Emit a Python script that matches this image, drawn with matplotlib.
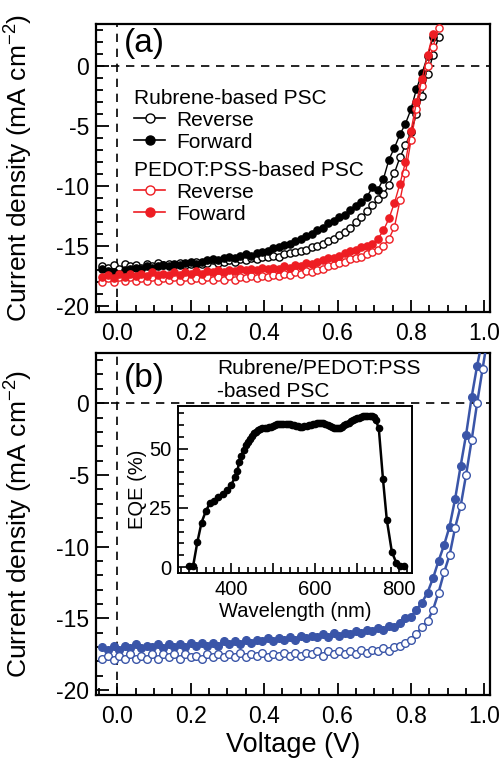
import numpy as np
import matplotlib
matplotlib.use("Agg")
import matplotlib.pyplot as plt
from matplotlib.ticker import MultipleLocator, FuncFormatter
from matplotlib.lines import Line2D

plt.rcParams['font.family'] = ['Liberation Sans', 'DejaVu Sans']
plt.rcParams['axes.unicode_minus'] = False
plt.rcParams['mathtext.fontset'] = 'custom'
plt.rcParams['mathtext.rm'] = 'Liberation Sans'
plt.rcParams['mathtext.default'] = 'regular'

# ---------------- data ----------------
# voltage sweep grids (V)
V_a = np.round(np.arange(-0.04, 0.8751, 0.015), 3)   # 62 points
V_b = np.round(np.arange(-0.04, 1.0101, 0.015), 3)   # 71 points

rub_rev = [-16.7, -16.8, -16.6, -16.9, -16.5, -16.7, -16.6, -16.8, -16.5, -16.7,
           -16.4, -16.6, -16.5, -16.6, -16.4, -16.6, -16.5, -16.3, -16.5, -16.4,
           -16.2, -16.4, -16.3, -16.2, -16.3, -16.1, -16.2, -16.0, -16.1, -15.9,
           -15.9, -15.8, -15.9, -15.7, -15.6, -15.5, -15.4, -15.3, -15.1, -15.0,
           -14.8, -14.6, -14.4, -14.1, -13.8, -13.5, -13.0, -12.6, -12.1, -11.6,
           -11.1, -10.7, -9.9, -8.9, -7.6, -6.6, -5.5, -4.0, -2.5, -0.7,
           0.9, 2.4]
rub_fwd = [-16.9, -17.1, -17.2, -17.3, -17.0, -16.9, -16.8, -16.9, -16.7, -16.8,
           -16.7, -16.6, -16.7, -16.5, -16.6, -16.4, -16.3, -16.5, -16.3, -16.2,
           -16.1, -16.2, -16.0, -15.9, -16.0, -15.8, -15.7, -15.8, -15.6, -15.5,
           -15.4, -15.2, -15.1, -14.9, -14.8, -14.6, -14.4, -14.2, -14.0, -13.7,
           -13.5, -13.1, -12.9, -12.6, -12.4, -12.0, -11.7, -11.3, -10.9, -10.1,
           -10.3, -9.4, -7.8, -6.8, -5.7, -4.8, -3.6, -1.9, -0.6, 0.8,
           2.4]
ped_rev = [-18.0, -17.7, -18.0, -17.6, -17.9, -17.6, -17.9, -17.7, -17.9, -17.6,
           -17.9, -17.7, -17.8, -17.6, -17.9, -17.6, -17.8, -17.7, -17.8, -17.6,
           -17.8, -17.6, -17.8, -17.5, -17.8, -17.6, -17.7, -17.5, -17.7, -17.5,
           -17.6, -17.4, -17.5, -17.3, -17.4, -17.2, -17.3, -17.1, -17.2, -17.0,
           -16.9, -16.7, -16.6, -16.4, -16.3, -16.1, -16.0, -15.9, -15.7, -15.5,
           -15.3, -15.0, -14.4, -13.4, -11.2, -8.9, -6.2, -3.6, -1.7, 0.0,
           1.6, 3.2]
ped_fwd = [-17.6, -17.4, -17.7, -17.3, -17.6, -17.3, -17.5, -17.3, -17.5, -17.2,
           -17.4, -17.3, -17.4, -17.2, -17.4, -17.2, -17.3, -17.1, -17.3, -17.1,
           -17.2, -17.0, -17.2, -17.0, -17.1, -16.9, -17.0, -16.9, -17.0, -16.8,
           -16.9, -16.8, -16.9, -16.7, -16.8, -16.6, -16.7, -16.4, -16.5, -16.3,
           -16.2, -16.0, -16.0, -15.8, -15.6, -15.4, -15.3, -15.1, -15.0, -14.8,
           -14.4, -13.7, -12.7, -11.4, -9.8, -8.0, -5.4, -3.0, -1.1, 0.9,
           2.7]

blue_fill = [-17.0, -17.2, -16.9, -17.2, -16.9, -17.1, -16.8, -17.1, -16.9, -17.0,
             -16.8, -17.1, -16.8, -17.0, -16.8, -17.0, -16.7, -16.9, -16.7, -16.9,
             -16.7, -16.9, -16.6, -16.8, -16.6, -16.8, -16.5, -16.7, -16.5, -16.6,
             -16.4, -16.6, -16.4, -16.5, -16.3, -16.5, -16.2, -16.4, -16.2, -16.3,
             -16.1, -16.3, -16.0, -16.2, -16.0, -16.1, -15.9, -16.0, -15.8, -15.9,
             -15.7, -15.8, -15.5, -15.6, -15.3, -15.0, -14.9, -14.4, -13.9, -13.2,
             -12.2, -11.0, -9.9, -8.6, -6.7, -4.4, -2.2, 0.4, 2.6, 4.5]
blue_open = [-17.8, -17.6, -17.9, -17.6, -17.8, -17.5, -17.8, -17.6, -17.8, -17.5,
             -17.8, -17.5, -17.7, -17.5, -17.8, -17.5, -17.7, -17.6, -17.8, -17.5,
             -17.7, -17.5, -17.7, -17.5, -17.7, -17.4, -17.7, -17.5, -17.6, -17.4,
             -17.7, -17.5, -17.6, -17.4, -17.6, -17.4, -17.6, -17.4, -17.5, -17.3,
             -17.6, -17.3, -17.5, -17.3, -17.5, -17.3, -17.5, -17.2, -17.4, -17.2,
             -17.3, -17.1, -17.3, -17.0, -16.9, -16.7, -16.5, -16.1, -15.6, -15.2,
             -14.4, -13.2, -11.8, -10.6, -8.7, -7.2, -5.0, -2.6, 0.0, 2.4,
             4.8]

eqe_wl = [300, 310, 320, 330, 340, 350, 360, 370, 380, 390, 400, 410, 415, 420, 425,
          430, 435, 440, 445, 450, 455, 460, 465, 470, 475, 480, 485, 490, 495, 500,
          505, 510, 515, 520, 525, 530, 535, 540, 545, 550, 555, 560, 565, 570, 575,
          580, 585, 590, 595, 600, 605, 610, 615, 620, 625, 630, 635, 640, 645, 650,
          655, 660, 665, 670, 675, 680, 685, 690, 695, 700, 705, 710, 715, 720, 725,
          730, 735, 740, 745, 752, 762, 771, 783, 794, 802, 812]
eqe_val = [0.3, 0.5, 10.5, 18.8, 23.5, 27.0, 28.0, 29.5, 30.8, 32.5, 34.5, 38.0, 40.5, 44.5, 47.0,
           49.5, 51.5, 53.0, 54.2, 55.3, 56.5, 57.2, 57.8, 58.2, 58.5, 58.6, 58.8, 59.0, 59.2, 59.6,
           60.0, 60.3, 60.5, 60.6, 60.5, 60.4, 60.3, 60.2, 60.0, 59.9, 59.7, 59.5, 59.3, 59.3, 59.4,
           59.6, 59.9, 60.1, 60.3, 60.5, 60.7, 60.9, 61.0, 60.8, 60.4, 60.0, 59.5, 59.0, 58.7, 58.6,
           58.7, 58.9, 59.3, 59.8, 60.4, 61.0, 61.5, 62.0, 62.4, 62.8, 63.1, 63.4, 63.6, 63.8, 63.9,
           63.9, 63.8, 63.2, 62.0, 58.5, 37.0, 20.0, 6.5, 1.6, 0.5, 0.3]

x_ticks = [0.0, 0.2, 0.4, 0.6, 0.8, 1.0]
y_ticks = [0, -5, -10, -15, -20]

RED = '#EE1D23'
BLUE = '#3A55A8'

# ---------------- figure ----------------
fig = plt.figure(figsize=(5.02, 7.63), dpi=100)
axa = fig.add_axes([0.191, 0.591, 0.785, 0.3775])
axb = fig.add_axes([0.191, 0.089, 0.785, 0.4484])


def style_main(ax, ylim):
    ax.set_xlim(-0.058, 1.015)
    ax.set_ylim(*ylim)
    ax.set_xticks(x_ticks)
    ax.set_yticks(y_ticks)
    ax.xaxis.set_minor_locator(MultipleLocator(0.05))
    ax.yaxis.set_minor_locator(MultipleLocator(1))
    ax.xaxis.set_major_formatter(FuncFormatter(lambda v, p: f"{v:.1f}"))
    ax.tick_params(which='both', direction='in', top=False, right=False, width=1.3)
    ax.tick_params(which='major', length=9, labelsize=16.5)
    ax.tick_params(axis='x', which='major', pad=7)
    ax.tick_params(axis='y', which='major', pad=5)
    ax.tick_params(which='minor', length=5)
    for s in ax.spines.values():
        s.set_linewidth(1.6)
    ax.axhline(0, color='black', ls=(0, (5, 4)), lw=1.2, zorder=1)
    ax.axvline(0, color='black', ls=(0, (5, 4)), lw=1.2, zorder=1)
    ax.set_ylabel('Current density (mA cm$^{-2}$)', fontsize=19)
    ax.yaxis.set_label_coords(-0.155, 0.5)


style_main(axa, (-20.5, 3.5))
style_main(axb, (-20.35, 3.5))

ms = 5.2
axa.plot(V_a, rub_rev, '-o', color='black', mfc='white', mec='black', ms=ms, mew=1.0, lw=1.0, zorder=3)
axa.plot(V_a[:len(rub_fwd)], rub_fwd, '-o', color='black', mfc='black', mec='black', ms=ms, mew=1.0, lw=1.0, zorder=3)
axa.plot(V_a, ped_rev, '-o', color=RED, mfc='white', mec=RED, ms=ms, mew=1.0, lw=1.0, zorder=4)
axa.plot(V_a[:len(ped_fwd)], ped_fwd, '-o', color=RED, mfc=RED, mec=RED, ms=ms, mew=1.0, lw=1.0, zorder=4)

axa.text(0.07, 0.934, '(a)', transform=axa.transAxes, fontsize=24, va='center', ha='left')

h1 = [Line2D([], [], color='black', marker='o', mfc='white', mec='black', ms=6.5, lw=1.2),
      Line2D([], [], color='black', marker='o', mfc='black', mec='black', ms=6.5, lw=1.2)]
h2 = [Line2D([], [], color=RED, marker='o', mfc='white', mec=RED, ms=6.5, lw=1.2),
      Line2D([], [], color=RED, marker='o', mfc=RED, mec=RED, ms=6.5, lw=1.2)]
kw = dict(frameon=False, fontsize=15, title_fontsize=15, handlelength=1.5,
          handletextpad=0.5, labelspacing=0.15, borderpad=0, borderaxespad=0,
          alignment='left', loc='upper left')
leg1 = axa.legend(h1, ['Reverse', 'Forward'], title='Rubrene-based PSC',
                  bbox_to_anchor=(0.097, 0.775), **kw)
axa.add_artist(leg1)
leg2 = axa.legend(h2, ['Reverse', 'Foward'], title='PEDOT:PSS-based PSC',
                  bbox_to_anchor=(0.097, 0.525), **kw)
for lg in (leg1, leg2):
    lg._legend_box.sep = 2

mb = 5.5
axb.plot(V_b[:len(blue_fill)], blue_fill, '-o', color=BLUE, mfc=BLUE, mec=BLUE, ms=mb, mew=1.0, lw=1.8, zorder=3)
axb.plot(V_b, blue_open, '-o', color=BLUE, mfc='white', mec=BLUE, ms=mb, mew=1.0, lw=1.8, zorder=3)
axb.set_xlabel('Voltage (V)', fontsize=19.5, labelpad=3)
axb.text(0.07, 0.925, '(b)', transform=axb.transAxes, fontsize=24, va='center', ha='left')
axb.text(0.307, 0.956, 'Rubrene/PEDOT:PSS', transform=axb.transAxes, fontsize=15, va='center', ha='left')
axb.text(0.307, 0.886, '-based PSC', transform=axb.transAxes, fontsize=15, va='center', ha='left')

# ---------------- inset ----------------
axi = fig.add_axes([0.3546, 0.249, 0.4661, 0.2189])
axi.plot(eqe_wl, eqe_val, '-o', color='black', ms=4.5, lw=1.8)
axi.set_xlim(274, 831)
axi.set_ylim(-2.5, 68)
axi.xaxis.set_major_locator(MultipleLocator(100))
axi.xaxis.set_minor_locator(MultipleLocator(20))
axi.xaxis.set_major_formatter(FuncFormatter(lambda v, p: f"{int(v)}" if int(round(v)) % 200 == 0 else ""))
axi.set_yticks([0, 25, 50])
axi.yaxis.set_minor_locator(MultipleLocator(5))
axi.tick_params(which='both', direction='in', top=False, right=False, width=1.2, labelsize=14.5)
axi.tick_params(which='major', length=7, pad=5)
axi.tick_params(which='minor', length=4)
for s in axi.spines.values():
    s.set_linewidth(1.4)
axi.set_xlabel('Wavelength (nm)', fontsize=14.5, labelpad=2)
axi.set_ylabel('EQE (%)', fontsize=14.5, labelpad=1)

fig.savefig('out.png', dpi=100)
